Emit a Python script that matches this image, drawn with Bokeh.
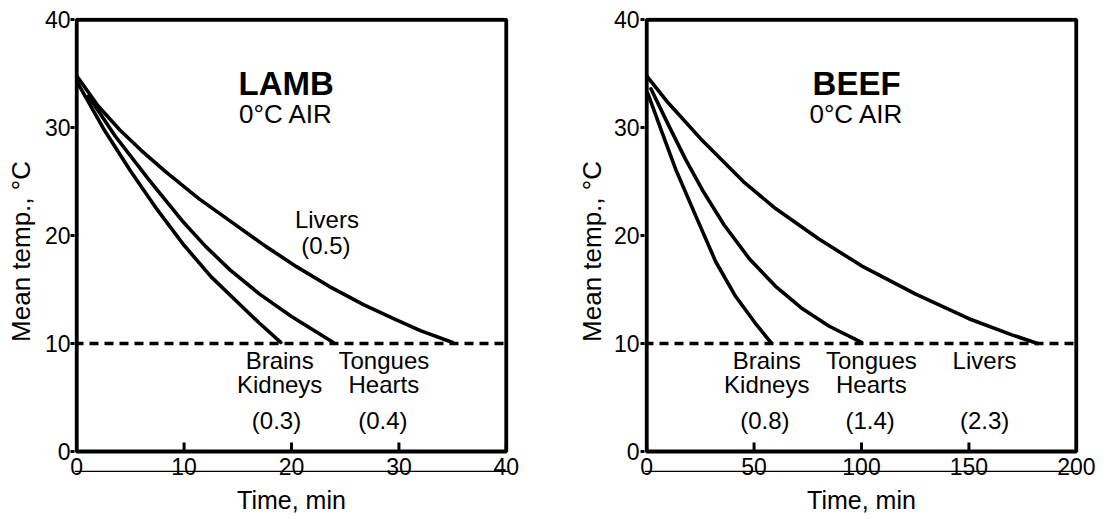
import math
from bokeh.plotting import figure
from bokeh.models import LinearAxis, FixedTicker, Range1d, Span, BoxAnnotation
from bokeh.layouts import row
from bokeh.embed import file_html
from bokeh.resources import INLINE
from bokeh.core.properties import value

# ---------------- data ----------------
# LAMB, 0 °C air : time (min) vs mean temperature (°C)
lamb_brains_t = [0, 2.5, 5.0, 7.5, 10.0, 12.5, 15.0, 17.0, 19.0]
lamb_brains_T = [34.3, 29.9, 26.0, 22.4, 19.1, 16.2, 13.8, 11.9, 10.1]
lamb_tongues_t = [1.1, 3.6, 6.7, 9.8, 12.0, 14.3, 17.0, 20.0, 23.9]
lamb_tongues_T = [32.9, 29.2, 25.2, 21.4, 19.0, 16.8, 14.6, 12.5, 10.1]
lamb_livers_t = [0, 2.0, 4.0, 6.0, 8.3, 11.4, 14.5, 17.6, 20.5, 23.5, 26.7, 29.5, 32.0, 35.0]
lamb_livers_T = [34.8, 32.0, 29.8, 27.9, 25.9, 23.4, 21.2, 19.0, 17.1, 15.3, 13.6, 12.3, 11.2, 10.1]

# BEEF, 0 °C air
beef_brains_t = [0.5, 6.9, 13.8, 22.9, 32.1, 41.3, 50.5, 57.8]
beef_brains_T = [33.2, 29.7, 26.0, 21.8, 17.6, 14.4, 11.9, 10.1]
beef_tongues_t = [2, 10, 18, 26, 36, 48, 60, 72, 85, 100]
beef_tongues_T = [33.6, 30.3, 27.1, 24.2, 21.0, 17.8, 15.3, 13.3, 11.6, 10.1]
beef_livers_t = [0, 10, 25, 45, 60, 80, 100, 125, 150, 170, 182]
beef_livers_T = [34.8, 32.3, 29.0, 25.0, 22.5, 19.7, 17.2, 14.6, 12.3, 10.8, 10.0]

ref_temp = 10

y_ticks = [0, 10, 20, 30, 40]
lamb_x_ticks = [0, 10, 20, 30, 40]
beef_x_ticks = [0, 50, 100, 150, 200]

lamb_title = ["LAMB"]
beef_title = ["BEEF"]
subtitle = ["0°C AIR"]
lamb_labels = ["Brains", "Kidneys", "(0.3)", "Tongues", "Hearts", "(0.4)", "Livers", "(0.5)"]
beef_labels = ["Brains", "Kidneys", "(0.8)", "Tongues", "Hearts", "(1.4)", "Livers", "(2.3)"]

x_title = "Time, min"
y_title = "Mean temp., °C"

FONT = "Liberation Sans"
Y_MIN, Y_MAX = 0, 40
BAND = -3.15          # frame extends below the box to hold the tick-label band
SCAN_LINE_Y = -1.85   # thin horizontal line running through the time tick labels


def make_panel(width, bl, br, ytick_standoff, ylab_standoff, xmax, xpad, x_ticks, curves,
               title, title_xy, sub_xy, labels, label_x, label_y):
    p = figure(width=width, height=519, output_backend="svg", toolbar_location=None,
               x_range=Range1d(-xpad, xmax + xpad), y_range=Range1d(BAND, Y_MAX + 0.2),
               x_axis_type=None, y_axis_type=None,
               min_border_left=bl, min_border_right=br,
               min_border_top=17, min_border_bottom=34,
               background_fill_color="white", border_fill_color="white")
    p.outline_line_color = None

    # the plot box
    p.add_layout(BoxAnnotation(left=0, right=xmax, bottom=Y_MIN, top=Y_MAX,
                               fill_alpha=0, fill_color=None,
                               line_color="black", line_width=4, line_alpha=1))

    # y axis
    ya = LinearAxis(ticker=FixedTicker(ticks=y_ticks))
    ya.axis_line_color = None
    ya.major_tick_out = 4
    ya.major_tick_in = 0
    ya.major_tick_line_width = 3
    ya.minor_tick_line_color = None
    ya.major_label_standoff = ytick_standoff
    ya.major_label_text_font = FONT
    ya.major_label_text_font_size = "23px"
    ya.major_label_text_color = "black"
    ya.axis_label = y_title
    ya.axis_label_text_font = FONT
    ya.axis_label_text_font_size = "26px"
    ya.axis_label_text_font_style = "normal"
    ya.axis_label_text_color = "black"
    ya.axis_label_standoff = ylab_standoff
    p.add_layout(ya, "left")

    # x axis: labels pulled up into the band, title below
    xa = LinearAxis(ticker=FixedTicker(ticks=x_ticks))
    xa.axis_line_color = None
    xa.major_tick_in = 0
    xa.major_tick_out = 0
    xa.major_tick_line_color = None
    xa.minor_tick_line_color = None
    xa.major_label_standoff = -28
    xa.major_label_text_font = FONT
    xa.major_label_text_font_size = "23px"
    xa.major_label_text_color = "black"
    xa.axis_label = x_title
    xa.axis_label_text_font = FONT
    xa.axis_label_text_font_size = "25px"
    xa.axis_label_text_font_style = "normal"
    xa.axis_label_text_color = "black"
    xa.axis_label_standoff = 8
    p.add_layout(xa, "below")

    # inward tick marks on the bottom edge of the box (screen length)
    p.ray(x=x_ticks, y=[Y_MIN] * len(x_ticks), length=9, length_units="screen",
          angle=math.pi / 2, line_color="black", line_width=3)

    # thin line through the tick labels
    p.add_layout(Span(location=SCAN_LINE_Y, dimension="width", line_color="black",
                      line_width=1.2))

    # 10 °C reference line
    p.add_layout(Span(location=ref_temp, dimension="width", line_color="black",
                      line_width=3.5, line_dash="9 6"))

    for t, T in curves:
        p.line(t, T, line_color="black", line_width=3.6, line_join="round", line_cap="round")

    p.text(x=[title_xy[0]], y=[title_xy[1]], text=title, text_font=value(FONT),
           text_font_size=value("33px"), text_font_style="bold", text_align="center",
           text_baseline="alphabetic", text_color="black")
    p.text(x=[sub_xy[0]], y=[sub_xy[1]], text=subtitle, text_font=value(FONT),
           text_font_size=value("26px"), text_align="center",
           text_baseline="alphabetic", text_color="black")
    p.text(x=label_x, y=label_y, text=labels, text_font=value(FONT),
           text_font_size=value("24px"), text_align="center",
           text_baseline="alphabetic", text_color="black")
    return p


p1 = make_panel(573, 74, 65, 0, 6, 40, 0.2, lamb_x_ticks,
                [(lamb_brains_t, lamb_brains_T), (lamb_tongues_t, lamb_tongues_T),
                 (lamb_livers_t, lamb_livers_T)],
                lamb_title, (19.5, 34.1), (19.5, 31.3),
                lamb_labels,
                [18.9, 18.9, 18.6, 28.6, 28.6, 28.5, 23.3, 23.2],
                [8.4, 6.2, 2.9, 8.4, 6.2, 2.9, 21.5, 19.1])

p2 = make_panel(546, 65, 41, 1, 4, 200, 1.0, beef_x_ticks,
                [(beef_brains_t, beef_brains_T), (beef_tongues_t, beef_tongues_T),
                 (beef_livers_t, beef_livers_T)],
                beef_title, (97.7, 34.1), (97.7, 31.3),
                beef_labels,
                [55.9, 55.9, 55.0, 104.6, 104.6, 104.0, 157.3, 157.3],
                [8.4, 6.2, 2.9, 8.4, 6.2, 2.9, 8.4, 2.9])

layout = row(p1, p2)
open("out.html", "w").write(file_html(layout, INLINE))
